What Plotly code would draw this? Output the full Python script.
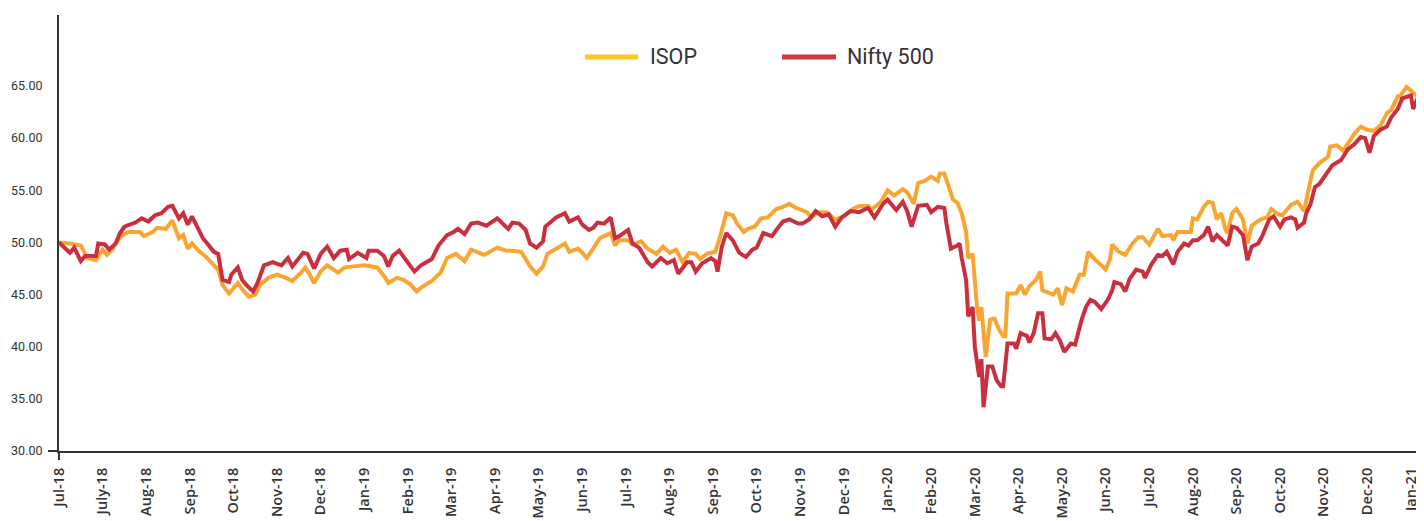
import plotly.graph_objects as go

# Trading-day index (0 = start of Jul-18) and index values
isop_day = [0,5,10,13,17,20,22,24,26,29,32,37,39,43,45,49,52,55,57,59,61,64,67,70,73,75,78,80,82,84,87,90,92,96,100,104,107,111,113,115,117,120,123,128,131,135,140,146,149,151,155,158,161,164,167,171,175,178,182,186,189,195,201,205,208,212,216,219,222,224,228,232,234,238,240,242,245,248,251,253,255,257,261,263,267,270,274,277,280,283,286,289,292,294,297,301,303,306,309,311,314,316,319,322,325,329,332,335,338,341,343,345,348,352,356,360,364,367,371,373,377,380,383,387,389,392,394,397,400,403,404,406,408,410,412,414,416,417,419,421,422,423,425,427,429,431,433,434,435,439,441,443,445,448,450,451,456,458,460,462,465,468,470,472,475,478,480,482,483,486,489,492,495,497,500,504,506,510,511,513,519,520,522,525,527,529,531,533,535,536,538,540,543,545,547,551,554,556,559,561,565,568,571,573,575,578,582,583,586,589,592,594,597,600,603,606,609,611,614,615,618,621,623,626]
isop_val = [50.0,49.9,49.7,48.5,48.3,49.3,48.8,49.2,49.9,50.7,51.0,51.0,50.6,51.0,51.4,51.3,52.1,50.4,50.7,49.4,49.9,49.2,48.7,48.0,47.4,45.9,45.1,45.6,46.1,45.5,44.8,45.0,45.9,46.6,46.9,46.6,46.3,47.1,47.6,46.9,46.1,47.2,47.8,47.1,47.6,47.7,47.8,47.6,46.8,46.1,46.6,46.4,46.0,45.3,45.8,46.3,47.1,48.5,48.9,48.2,49.3,48.8,49.5,49.2,49.2,49.1,47.7,47.0,47.7,48.9,49.4,49.9,49.1,49.4,49.0,48.5,49.4,50.4,50.7,50.9,49.7,50.2,50.2,49.8,50.1,49.4,48.9,49.6,49.0,49.3,48.1,49.0,48.9,48.4,48.9,49.1,50.4,52.8,52.6,51.8,51.0,51.3,51.5,52.3,52.4,53.2,53.4,53.7,53.3,53.0,52.9,52.4,52.9,52.9,52.2,52.5,53.2,53.5,53.5,53.2,53.9,55.0,54.5,55.1,54.8,53.7,55.7,55.9,56.3,55.9,56.6,56.6,55.2,54.1,53.8,52.8,51.0,48.5,48.9,43.8,42.5,43.8,39.0,42.6,42.7,41.7,41.0,41.0,45.1,45.1,45.9,45.0,45.8,46.4,47.2,45.4,45.0,45.6,44.0,45.6,45.3,46.9,46.9,49.1,48.4,47.8,47.4,48.4,49.8,49.1,48.8,49.8,50.5,50.5,49.8,51.3,50.6,50.7,50.2,51.0,51.0,52.3,52.2,53.4,53.9,53.8,52.2,52.8,51.2,50.9,52.8,53.2,52.2,49.9,51.6,52.2,52.4,53.2,52.7,52.6,53.6,53.9,53.0,55.0,56.9,57.6,58.2,59.2,59.3,58.8,59.8,60.4,61.1,60.8,60.7,61.2,62.4,62.7,64.0,64.0,64.9,64.4,64.0,62.7]

nifty_day = [0,5,7,10,12,17,18,21,23,26,28,30,35,38,41,44,47,50,52,55,57,59,61,64,66,68,71,73,75,78,79,82,84,86,89,91,94,98,102,105,107,112,114,117,120,123,126,129,132,133,137,141,142,146,149,151,153,156,159,163,166,169,171,174,178,181,183,186,189,192,196,201,206,208,211,214,216,219,222,223,226,228,232,234,238,240,243,245,247,250,253,255,257,261,263,266,270,272,276,279,282,284,288,290,292,295,299,301,302,304,306,309,312,315,318,320,323,327,329,332,335,339,341,344,347,350,353,356,359,363,367,371,374,378,380,384,387,389,391,394,398,400,403,406,407,409,412,413,414,416,417,419,420,422,423,424,426,428,430,432,433,434,435,438,439,441,444,445,447,449,451,452,455,457,459,461,464,466,468,469,471,473,475,478,481,483,484,487,489,491,494,497,498,501,504,506,508,511,513,516,518,520,522,525,527,529,531,533,536,538,540,543,545,547,550,552,555,557,560,562,565,567,568,571,572,574,576,578,582,584,588,591,594,597,599,601,603,606,609,611,614,616,620,621,623,625,626]
nifty_val = [50.0,49.0,49.5,48.2,48.7,48.7,49.9,49.8,49.3,49.9,50.9,51.5,51.9,52.3,52.0,52.6,52.8,53.4,53.5,52.3,52.8,51.7,52.5,51.2,50.4,49.9,49.1,48.9,46.4,46.2,46.9,47.6,46.4,45.9,45.3,46.1,47.8,48.1,47.8,48.5,47.7,49.0,48.9,47.5,48.9,49.6,48.5,49.2,49.3,48.4,49.0,48.5,49.2,49.2,48.7,47.7,48.7,49.2,48.4,47.2,47.8,48.1,48.4,49.7,50.7,51.0,51.3,50.8,51.8,51.9,51.6,52.3,51.3,51.9,51.8,51.2,49.9,49.5,50.1,51.5,52.0,52.4,52.8,52.0,52.4,51.7,51.2,51.4,51.9,51.8,52.4,50.4,50.6,51.2,49.9,49.5,48.1,47.7,48.5,48.0,48.3,47.0,48.1,48.1,47.2,48.0,48.5,48.2,47.2,49.6,50.9,50.2,49.0,48.6,49.3,49.5,50.9,50.6,51.2,52.0,52.2,51.8,51.8,52.2,53.0,52.5,52.7,51.5,52.4,53.0,52.9,53.3,52.4,53.7,54.1,53.1,53.9,53.0,51.5,53.5,53.6,52.9,53.4,53.3,51.8,49.4,49.7,49.9,48.5,46.4,42.9,43.8,40.0,37.1,38.8,34.2,38.1,38.1,36.8,36.2,36.2,38.7,40.3,40.3,39.8,41.3,41.0,40.4,41.3,43.2,43.2,40.8,40.7,41.3,40.6,39.5,40.3,40.2,42.0,42.6,43.8,44.5,44.3,43.6,44.5,45.4,46.2,46.0,45.3,46.5,47.4,47.2,46.6,47.9,48.8,48.7,49.1,47.9,49.1,49.9,49.7,50.2,50.2,50.7,51.5,50.1,50.7,50.3,49.7,51.5,51.4,50.7,48.3,49.6,49.9,50.7,52.2,52.5,51.5,52.2,52.4,52.2,51.4,51.9,52.8,53.7,55.3,55.6,56.8,57.4,57.9,58.9,59.4,60.1,60.0,58.6,60.2,60.8,61.1,62.0,62.8,63.8,64.1,62.8,63.8,63.2,62.6]

tick_days = list(range(0, 621, 20))
tick_labels = ["Jul-18","July-18","Aug-18","Sep-18","Oct-18","Nov-18","Dec-18","Jan-19","Feb-19","Mar-19",
               "Apr-19","May-19","Jun-19","Jul-19","Aug-19","Sep-19","Oct-19","Nov-19","Dec-19","Jan-20",
               "Feb-20","Mar-20","Apr-20","May-20","Jun-20","Jul-20","Aug-20","Sep-20","Oct-20","Nov-20",
               "Dec-20","Jan-21"]
y_ticks = [30, 35, 40, 45, 50, 55, 60, 65]
series_names = ["ISOP", "Nifty 500"]

ISOP_LINE = "#F8A531"
NIFTY_LINE = "#C92F3F"
ISOP_LEG = "#FFC425"
NIFTY_LEG = "#CF3441"

fig = go.Figure()
fig.add_trace(go.Scatter(x=isop_day, y=isop_val, mode="lines", name=series_names[0],
                         line=dict(color=ISOP_LINE, width=4), showlegend=False))
fig.add_trace(go.Scatter(x=nifty_day, y=nifty_val, mode="lines", name=series_names[1],
                         line=dict(color=NIFTY_LINE, width=4), showlegend=False))

# the page body has an 8px margin, so the figure is sized to fit the window
fig.update_layout(
    width=1416, height=513,
    margin=dict(l=51, r=0, t=7, b=70),
    plot_bgcolor="white", paper_bgcolor="white",
    showlegend=False,
    xaxis=dict(range=[0, 626], tickmode="array", tickvals=tick_days, ticktext=tick_labels,
               tickangle=-90, showgrid=False, zeroline=False, automargin=False,
               showline=True, linecolor="#333333", linewidth=2,
               ticks="outside", ticklen=9, tickcolor="rgba(0,0,0,0)",
               tickfont=dict(family="Open Sans", size=14.5, color="#333333", weight=600)),
    yaxis=dict(range=[30, 71.8], tickmode="array", tickvals=y_ticks,
               ticktext=[f"{v:.2f}" for v in y_ticks], showgrid=False, zeroline=False,
               automargin=False,
               showline=True, linecolor="#333333", linewidth=2,
               ticks="outside", ticklen=12, tickcolor="rgba(0,0,0,0)",
               tickfont=dict(family="Roboto", size=12.5, color="#333333")),
)

# custom legend (long line swatches like the original)
legend_items = [(series_names[0], ISOP_LEG, 0.3853, 0.4242, 0.4315),
                (series_names[1], NIFTY_LEG, 0.5297, 0.5692, 0.5758)]
for name, col, lx0, lx1, tx in legend_items:
    fig.add_shape(type="line", xref="paper", yref="paper", x0=lx0, x1=lx1, y0=0.9037, y1=0.9037,
                  line=dict(color=col, width=5))
    fig.add_annotation(xref="paper", yref="paper", x=tx, y=0.9037, text=name, showarrow=False,
                       xanchor="left", yanchor="middle",
                       font=dict(family="Liberation Sans Narrow, Roboto", size=21.5, color="#333333"))

# small axis overhangs at the origin
fig.add_shape(type="line", xref="paper", yref="paper", x0=-11/1365, x1=0, y0=0, y1=0,
              line=dict(color="#333333", width=2))
fig.add_shape(type="line", xref="paper", yref="paper", x0=0, x1=0, y0=0, y1=-9/436,
              line=dict(color="#333333", width=2))

fig.write_html("out.html")
